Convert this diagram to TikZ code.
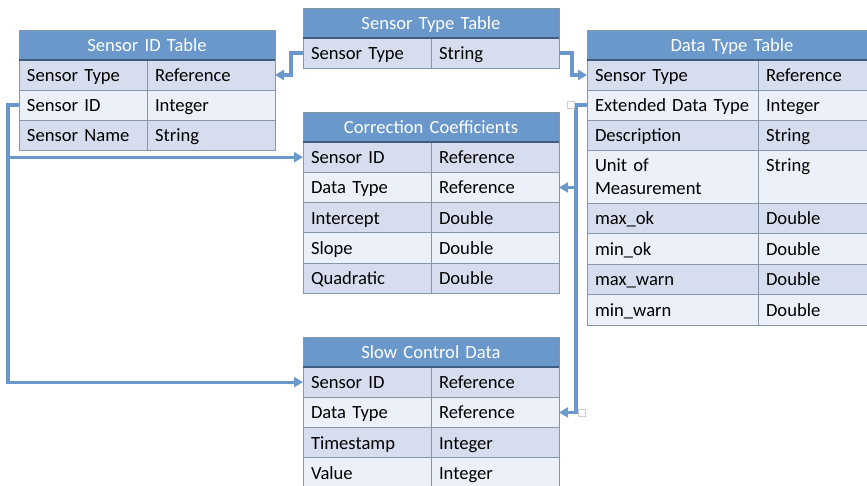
\documentclass[tikz,border=0pt]{standalone}
\usepackage{fontspec}
\setmainfont{Carlito}
\usetikzlibrary{arrows.meta}
\definecolor{hdrblue}{HTML}{6A98CB}
\definecolor{rowdark}{HTML}{D6DDEE}
\definecolor{rowlight}{HTML}{ECF0F8}
\definecolor{bordgrey}{HTML}{8497AB}
\definecolor{hdrline}{HTML}{3E5D80}
\definecolor{connblue}{HTML}{6A98CB}
\newcommand\cellfont{\fontsize{18.6pt}{22.3pt}\selectfont}
\tikzset{
  tcell/.style={draw=bordgrey, line width=0.9pt, anchor=north west, outer sep=0pt,
    inner xsep=8pt, inner ysep=0pt, align=left, font=\cellfont,
    text height=13pt, text depth=0pt, text=black},
  hcell/.style={tcell, fill=hdrblue, text=white, align=center},
  twoline/.style={text depth=22.3pt},
  link/.style={draw=connblue, line width=3.2pt, -{Triangle[length=9pt,width=10pt]}},
  handle/.style={draw=black!20, fill=white, line width=0.6pt, minimum size=7pt,
    inner sep=0pt, outer sep=0pt},
  hline/.style={draw=hdrline, line width=1.2pt},
}
\newcommand\trow[9]{%
  \node[tcell, #7, minimum height=#6, text width=#4] (#1a) at (#2,#3) {#8};
  \node[tcell, #7, minimum height=#6, text width=#5] (#1b) at (#1a.north east) {#9};
}
\begin{document}
\begin{tikzpicture}[x=1pt, y=-1pt]
\useasboundingbox (0,0) rectangle (867,486);
\clip (0,0) rectangle (867,486);

% Sensor ID Table
\node[hcell, text width=240pt, minimum height=30] (sidh) at (19,30) {Sensor ID Table};
\trow{sid1}{19}{60}{112pt}{112pt}{30}{fill=rowdark}{Sensor Type}{Reference}
\trow{sid2}{19}{90}{112pt}{112pt}{30}{fill=rowlight}{Sensor ID}{Integer}
\trow{sid3}{19}{120}{112pt}{112pt}{30}{fill=rowdark}{Sensor Name}{String}

% Sensor Type Table
\node[hcell, text width=240pt, minimum height=30] (stth) at (303,8) {Sensor Type Table};
\trow{stt1}{303}{38}{112pt}{112pt}{30}{fill=rowdark}{Sensor Type}{String}

% Data Type Table
\node[hcell, text width=274pt, minimum height=30] (dtth) at (587,30) {Data Type Table};
\trow{dtt1}{587}{60}{155pt}{103pt}{30}{fill=rowdark}{Sensor Type}{Reference}
\trow{dtt2}{587}{90}{155pt}{103pt}{30}{fill=rowlight}{Extended Data Type}{Integer}
\trow{dtt3}{587}{120}{155pt}{103pt}{30}{fill=rowdark}{Description}{String}
\trow{dtt4}{587}{150}{155pt}{103pt}{53}{fill=rowlight, twoline}{Unit of\\Measurement}{String}
\trow{dtt5}{587}{203}{155pt}{103pt}{30.5}{fill=rowdark}{max\_ok}{Double}
\trow{dtt6}{587}{233.5}{155pt}{103pt}{30.5}{fill=rowlight}{min\_ok}{Double}
\trow{dtt7}{587}{264}{155pt}{103pt}{30.5}{fill=rowdark}{max\_warn}{Double}
\trow{dtt8}{587}{294.5}{155pt}{103pt}{30.5}{fill=rowlight}{min\_warn}{Double}

% Correction Coefficients
\node[hcell, text width=240pt, minimum height=30] (cch) at (303,112) {Correction Coefficients};
\trow{cc1}{303}{142}{112pt}{112pt}{30.3}{fill=rowdark}{Sensor ID}{Reference}
\trow{cc2}{303}{172.3}{112pt}{112pt}{30.3}{fill=rowlight}{Data Type}{Reference}
\trow{cc3}{303}{202.6}{112pt}{112pt}{30.3}{fill=rowdark}{Intercept}{Double}
\trow{cc4}{303}{232.9}{112pt}{112pt}{30.3}{fill=rowlight}{Slope}{Double}
\trow{cc5}{303}{263.2}{112pt}{112pt}{30.3}{fill=rowdark}{Quadratic}{Double}

% Slow Control Data
\node[hcell, text width=240pt, minimum height=30] (scdh) at (303,337) {Slow Control Data};
\trow{scd1}{303}{367}{112pt}{112pt}{30.3}{fill=rowdark}{Sensor ID}{Reference}
\trow{scd2}{303}{397.3}{112pt}{112pt}{30.3}{fill=rowlight}{Data Type}{Reference}
\trow{scd3}{303}{427.6}{112pt}{112pt}{30.3}{fill=rowdark}{Timestamp}{Integer}
\trow{scd4}{303}{457.9}{112pt}{112pt}{30.3}{fill=rowlight}{Value}{Integer}

% header underlines
\foreach \h in {sidh,stth,dtth,cch,scdh}
  \draw[hline] (\h.south west) -- (\h.south east);

% connectors
\draw[link] (stt1a.west) -- ++(-12,0) |- (sid1b.east);
\draw[link] (stt1b.east) -- ++(13,0) |- (dtt1a.west);
\draw[link] (sid2a.west) -- ++(-11,0) coordinate (lbus) |- (scd1a.west);
\draw[link] (lbus |- cc1a.west) -- (cc1a.west);
\draw[link] (dtt2a.west) -- ++(-11,0) coordinate (rbus) |- (scd2b.east);
\draw[link] (rbus |- cc2b.east) -- (cc2b.east);

% selection handles
\node[handle] (hnd1) at ([xshift=-16.5pt]dtt2a.west) {};
\node[handle] (hnd2) at ([xshift=23pt]scd2b.east) {};
\end{tikzpicture}
\end{document}
